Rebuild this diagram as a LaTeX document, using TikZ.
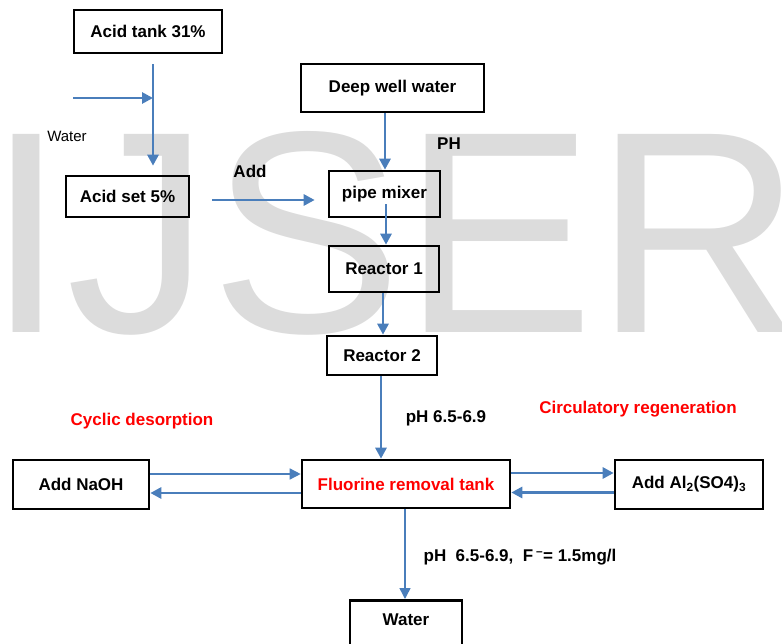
\documentclass[tikz,border=0pt]{standalone}
\usepackage{fontspec}
\setmainfont{Liberation Sans}
\usetikzlibrary{arrows.meta, positioning}
\definecolor{flowblue}{HTML}{4A7EBB}
\definecolor{hotred}{HTML}{FF0000}
\definecolor{wmgray}{HTML}{DCDCDC}

\begin{document}
\begin{tikzpicture}[x=1pt, y=-1pt,
  box/.style={draw, line width=2.6pt, inner sep=0pt,
    font=\fontsize{17}{20}\selectfont\bfseries},
  flow/.style={flowblue, line width=2.8pt, -{Triangle[length=11pt,width=11pt]}},
  thinflow/.style={flow, line width=1.5pt},
  lbl/.style={font=\fontsize{17}{20}\selectfont\bfseries},
  note/.style={lbl, hotred}]
  \useasboundingbox (0,0) rectangle (782,644);
  % watermark
  \node[wmgray, font=\fontsize{288}{288}\selectfont, anchor=base west, inner sep=0pt] (wm) at (-14,333) {IJSER};

  % acid line
  \node[box, minimum width=148pt, minimum height=43pt] (tank) at (148,31.5) {Acid tank 31\%};
  \node[box, minimum width=123pt, minimum height=41pt] (acidset) at (127.5,196.5) {Acid set 5\%};
  \coordinate (win) at (73,98);
  \coordinate (wj) at (153,98);
  \node[font=\fontsize{15}{18}\selectfont] (wlbl) at (67,136) {Water};
  \draw[flow] ([xshift=5pt,yshift=-10pt]tank.south) -- ([xshift=25.5pt,yshift=9pt]acidset.north);
  \draw[flow] (win) -- (wj);

  % main line
  \node[box, minimum width=183pt, minimum height=48pt] (well) at (392.5,88) {Deep well water};
  \node[box, minimum width=111pt, minimum height=46pt] (mixer) at (384.5,194) {pipe mixer};
  \node[box, minimum width=110pt, minimum height=46pt] (reac1) at (384,269) {Reactor 1};
  \node[box, minimum width=110pt, minimum height=39pt] (reac2) at (382,355.5) {Reactor 2};
  \node[box, minimum width=208pt, minimum height=48pt, text=hotred] (frt) at (406,484) {Fluorine removal tank};
  \node[box, anchor=north, minimum width=112pt, text height=25pt, text depth=45pt] (water) at (406,599) {Water};

  \node[lbl] (add) at (250,171) {Add};
  \node[lbl] (ph) at (449,144) {PH};
  \node[lbl] (ph2) at (446,418) {pH 6.5-6.9};
  \node[lbl] (ph3) at (520,557) {pH\ \ 6.5-6.9,\ \ F\,\textsuperscript{--}= 1.5mg/l};

  \draw[flow] ([xshift=22pt,yshift=-3.5pt]acidset.east) -- ([xshift=-13pt,yshift=-6pt]mixer.west);
  \draw[flow] ([xshift=-7.5pt]well.south) -- ([xshift=-7.5pt]well.south |- mixer.north);
  \draw[flow] ([xshift=1.5pt,yshift=14pt]mixer.south) -- ([xshift=1.5pt]mixer.south |- reac1.north);
  \draw[flow] ([xshift=-1pt]reac1.south) -- ([xshift=-1pt]reac1.south |- reac2.north);
  \draw[flow] ([xshift=-1pt]reac2.south) -- ([xshift=-1pt]reac2.south |- frt.north);
  \draw[thinflow] ([xshift=-1pt]frt.south) -- ([xshift=-1pt]frt.south |- water.north);

  % side loops
  \node[box, minimum width=136pt, minimum height=49pt] (naoh) at (81,484.5) {Add NaOH};
  \node[box, minimum width=148pt, minimum height=49pt] (alum) at (689,484.5) {Add Al\textsubscript{2}(SO4)\textsubscript{3}};
  \node[note] (cyc) at (142,421) {Cyclic desorption};
  \node[note] (circ) at (638,409) {Circulatory regeneration};

  \draw[thinflow] ([yshift=10.5pt]naoh.east) -- ([yshift=10.5pt]naoh.east -| frt.west);
  \draw[flow] ([yshift=-9pt]frt.west) -- ([yshift=-9pt]frt.west -| naoh.east);
  \draw[flow] ([yshift=11pt]frt.east) -- ([yshift=11pt]frt.east -| alum.west);
  \draw[flow] ([yshift=-8pt]alum.west) -- ([yshift=-8pt]alum.west -| frt.east);
\end{tikzpicture}
\end{document}
